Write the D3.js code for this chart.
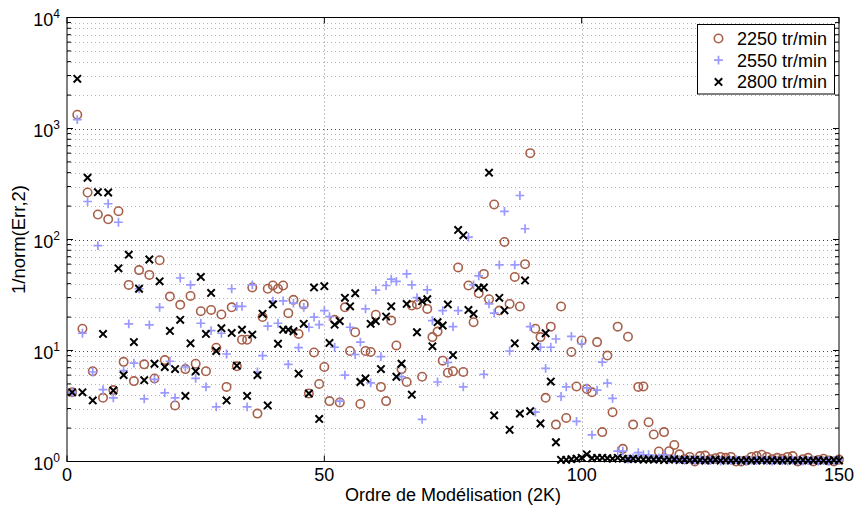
<!DOCTYPE html>
<html>
<head>
<meta charset="utf-8">
<script src="https://cdn.jsdelivr.net/npm/d3@7"></script>
<style>
  html, body { margin: 0; padding: 0; background: #fff; }
  svg { display: block; font-family: "Liberation Sans", Arial, Helvetica, sans-serif; }
</style>
</head>
<body>
<svg id="chart" width="856" height="510"></svg>
<script>
// Inverse of the modelling error norm, per model order, for three rotation speeds
const seriesNames = ["2250 tr/min", "2550 tr/min", "2800 tr/min"];

const err2250 = [
  4.2, 1330, 15.7, 265, 6.5, 168, 3.75, 152, 4.4, 180,
  7.9, 39, 5.3, 53, 7.5, 48, 5.6, 65, 8.2, 30.6,
  3.2, 25.8, 6.8, 31, 7.6, 22.6, 6.5, 23.2, 10.6, 21.1,
  4.7, 24.5, 7.2, 12.5, 12.5, 37, 2.7, 20, 36, 38.5,
  36, 38.5, 21.7, 28.6, 14.1, 26, 4.1, 9.6, 5.0, 7.1,
  3.5, 18.9, 3.4, 24.5, 9.9, 14.6, 3.3, 9.9, 9.7, 21,
  4.7, 3.5, 18.6, 11.1, 6.8, 5.2, 25.4, 26, 5.8, 23.7,
  13.2, 14.8, 8.1, 6.3, 6.5, 56, 6.4, 38.5, 18, 32.8,
  49, 29, 207, 22.9, 95, 26.3, 46, 24.9, 60, 600,
  15.7, 13.2, 3.75, 16.4, 2.15, 24.9, 2.47, 9.7, 4.74, 12.3,
  4.5, 4.2, 11.9, 1.84, 9.0, 2.78, 16.4, 1.3, 13.3, 2.15,
  4.7, 4.74, 2.26, 1.75, 1.23, 1.84, 1.24, 1.41, 1.16, 1.05,
  1.1, 1.0, 1.12, 1.13, 1.05, 1.07, 1.1, 1.08, 1.1, 1.0,
  1.0, 1.02, 1.1, 1.12, 1.15, 1.1, 1.05, 1.08, 1.06, 1.1,
  1.12, 1.0, 1.05, 1.08, 1.0, 1.03, 1.06, 1.02, 1.0, 1.04
];

const err2550 = [
  4.2, 1200, 14.3, 220, 6.4, 88, 4.45, 210, 3.75, 143,
  6.6, 17.4, 7.7, 36, 3.67, 17, 5.5, 24.5, 4.16, 8.0,
  3.75, 45, 7.1, 39, 5.6, 17.6, 4.7, 15.1, 3.1, 14.3,
  9.3, 36, 25, 25, 3.1, 39, 6.4, 9.0, 16.6, 27.8,
  17.6, 28, 7.5, 26.7, 10.6, 24.5, 16.2, 20, 17.1, 22.9,
  20.2, 10.7, 3.5, 6.0, 16.2, 9.2, 11.9, 23.7, 5.1, 35,
  8.8, 38.5, 44, 42, 5.8, 49, 39, 30, 2.4, 35.2,
  18.6, 5.2, 22.9, 7.8, 16.4, 22.9, 4.7, 105, 39, 47,
  6.1, 26.3, 21.7, 59, 179, 9.9, 59, 249, 125, 16.4,
  2.78, 10.7, 6.9, 10.7, 12.7, 3.85, 4.7, 13.4, 2.3, 11.5,
  4.6, 1.74, 4.4, 7.85, 5.08, 3.7, 1.24, 1.24, 1.05, 1.08,
  1.2, 1.15, 1.15, 1.06, 1.08, 1.15, 1.05, 1.06, 1.04, 1.03,
  1.05, 1.02, 1.04, 1.03, 1.02, 1.04, 1.01, 1.03, 1.02, 1.04,
  1.02, 1.01, 1.03, 1.02, 1.04, 1.02, 1.01, 1.03, 1.02, 1.01,
  1.03, 1.02, 1.01, 1.02, 1.03, 1.01, 1.02, 1.01, 1.02, 1.03
];

const err2800 = [
  4.2, 2800, 4.2, 360, 3.55, 267, 14.1, 265, 4.36, 55,
  6.0, 73, 11.9, 36, 5.4, 66, 7.6, 42, 7.1, 15,
  6.8, 18.9, 3.9, 11.6, 6.5, 46, 14.1, 33, 9.9, 15.9,
  3.55, 14.4, 7.3, 15.4, 3.9, 13.9, 6.0, 21.4, 3.2, 26,
  11.5, 15.4, 15.4, 14.9, 6.2, 17.4, 4.1, 37, 2.42, 38,
  11.7, 17.1, 18.4, 29.8, 25, 32.8, 5.2, 5.6, 17.4, 18.4,
  6.8, 20.2, 25, 5.8, 7.6, 26.3, 4.0, 14.6, 27.8, 29,
  10.9, 18, 16.8, 26, 9.1, 122, 109, 23.2, 21.4, 36.7,
  37, 400, 2.6, 29.8, 23, 1.93, 11.6, 2.7, 42.8, 2.84,
  10.9, 2.2, 14.3, 5.25, 1.49, 1.035, 1.035, 1.05, 1.06, 1.08,
  1.16, 1.07, 1.08, 1.08, 1.07, 1.06, 1.08, 1.06, 1.05, 1.06,
  1.05, 1.04, 1.05, 1.04, 1.05, 1.03, 1.04, 1.05, 1.03, 1.04,
  1.03, 1.04, 1.03, 1.02, 1.03, 1.04, 1.02, 1.03, 1.02, 1.03,
  1.02, 1.03, 1.02, 1.02, 1.03, 1.02, 1.03, 1.02, 1.02, 1.03,
  1.02, 1.02, 1.03, 1.02, 1.02, 1.03, 1.02, 1.02, 1.03, 1.02
];

const xTicks = [0, 50, 100, 150];
const yExponents = [0, 1, 2, 3, 4];
const xLabel = "Ordre de Modélisation (2K)";
const yLabel = "1/norm(Err,2)";

const svg = d3.select("#chart");
const pLeft = 67, pRight = 839, pTop = 17.5, pBottom = 461.5;

const x = d3.scaleLinear().domain([0, 150]).range([pLeft, pRight]);
const y = d3.scaleLog().domain([1, 1e4]).range([pBottom, pTop]);

// grid: minor decades (light) then majors (dark)
const minorVals = [];
for (let e = 0; e < 4; e++) for (let m = 2; m <= 9; m++) minorVals.push(m * Math.pow(10, e));
const grid = svg.append("g");
grid.selectAll("line.minor").data(minorVals).enter().append("line")
  .attr("x1", pLeft).attr("x2", pRight)
  .attr("y1", d => Math.round(y(d)) + 0.5).attr("y2", d => Math.round(y(d)) + 0.5)
  .attr("stroke", "#b4b4b4").attr("stroke-width", 1).attr("stroke-dasharray", "1,3");
grid.selectAll("line.major").data(yExponents.slice(1, 4)).enter().append("line")
  .attr("x1", pLeft).attr("x2", pRight)
  .attr("y1", d => Math.round(y(Math.pow(10, d))) + 0.5).attr("y2", d => Math.round(y(Math.pow(10, d))) + 0.5)
  .attr("stroke", "#444").attr("stroke-width", 1).attr("stroke-dasharray", "1,3");
grid.selectAll("line.vx").data(xTicks.slice(1, 3)).enter().append("line")
  .attr("x1", d => Math.round(x(d)) + 0.5).attr("x2", d => Math.round(x(d)) + 0.5)
  .attr("y1", pTop).attr("y2", pBottom)
  .attr("stroke", "#888").attr("stroke-width", 1).attr("stroke-dasharray", "1,3");

// markers
const colors = ["#a85f4a", "#9999ff", "#000000"];
function drawCircle(g, cx, cy, col) {
  g.append("circle").attr("cx", cx).attr("cy", cy).attr("r", 4.2)
    .attr("fill", "none").attr("stroke", col).attr("stroke-width", 1.6);
}
function drawPlus(g, cx, cy, col) {
  const s = 4.4;
  g.append("path").attr("d", `M${cx - s},${cy}H${cx + s}M${cx},${cy - s}V${cy + s}`)
    .attr("stroke", col).attr("stroke-width", 1.7).attr("fill", "none");
}
function drawCross(g, cx, cy, col) {
  const s = 3.7;
  g.append("path").attr("d", `M${cx - s},${cy - s}L${cx + s},${cy + s}M${cx - s},${cy + s}L${cx + s},${cy - s}`)
    .attr("stroke", col).attr("stroke-width", 2).attr("fill", "none");
}
const drawers = [drawCircle, drawPlus, drawCross];
const allSeries = [err2250, err2550, err2800];

allSeries.forEach((vals, si) => {
  const g = svg.append("g");
  vals.forEach((v, i) => drawers[si](g, x(i + 1), y(v), colors[si]));
});

// box and ticks
const axes = svg.append("g").attr("stroke", "#000").attr("fill", "none");
axes.append("rect").attr("x", pLeft).attr("y", pTop).attr("width", pRight - pLeft).attr("height", pBottom - pTop)
  .attr("stroke-width", 1);
const tl = 6;
yExponents.forEach(e => {
  const yy = y(Math.pow(10, e));
  axes.append("line").attr("x1", pLeft).attr("x2", pLeft + tl).attr("y1", yy).attr("y2", yy);
  axes.append("line").attr("x1", pRight).attr("x2", pRight - tl).attr("y1", yy).attr("y2", yy);
});
minorVals.forEach(v => {
  const yy = y(v);
  axes.append("line").attr("x1", pLeft).attr("x2", pLeft + 4).attr("y1", yy).attr("y2", yy);
  axes.append("line").attr("x1", pRight).attr("x2", pRight - 4).attr("y1", yy).attr("y2", yy);
});
xTicks.forEach(t => {
  const xx = x(t);
  axes.append("line").attr("x1", xx).attr("x2", xx).attr("y1", pBottom).attr("y2", pBottom - tl);
  axes.append("line").attr("x1", xx).attr("x2", xx).attr("y1", pTop).attr("y2", pTop + tl);
});

// tick labels
const labels = svg.append("g").attr("fill", "#000");
yExponents.forEach(e => {
  const t = labels.append("text").attr("x", 60).attr("y", y(Math.pow(10, e)) + 8)
    .attr("text-anchor", "end").attr("font-size", 18);
  t.append("tspan").text("10");
  t.append("tspan").attr("font-size", 12).attr("dy", -8).text(e);
});
xTicks.forEach(t => {
  labels.append("text").attr("x", x(t)).attr("y", 481).attr("text-anchor", "middle")
    .attr("font-size", 18).text(t);
});

// axis titles
labels.append("text").attr("x", (pLeft + pRight) / 2).attr("y", 501).attr("text-anchor", "middle")
  .attr("font-size", 18).text(xLabel);
labels.append("text").attr("transform", `translate(24.5,${(pTop + pBottom) / 2}) rotate(-90)`)
  .attr("text-anchor", "middle").attr("font-size", 18.5).text(yLabel);

// legend
const leg = svg.append("g");
leg.append("rect").attr("x", 697.5).attr("y", 24.5).attr("width", 137).attr("height", 69.5)
  .attr("fill", "#fff").attr("stroke", "#000").attr("stroke-width", 1);
seriesNames.forEach((name, i) => {
  const ry = 38.5 + i * 21.7;
  drawers[i](leg, 718.5, ry, colors[i]);
  leg.append("text").attr("x", 737).attr("y", ry + 6.5).attr("font-size", 18).text(name);
});
</script>
</body>
</html>
